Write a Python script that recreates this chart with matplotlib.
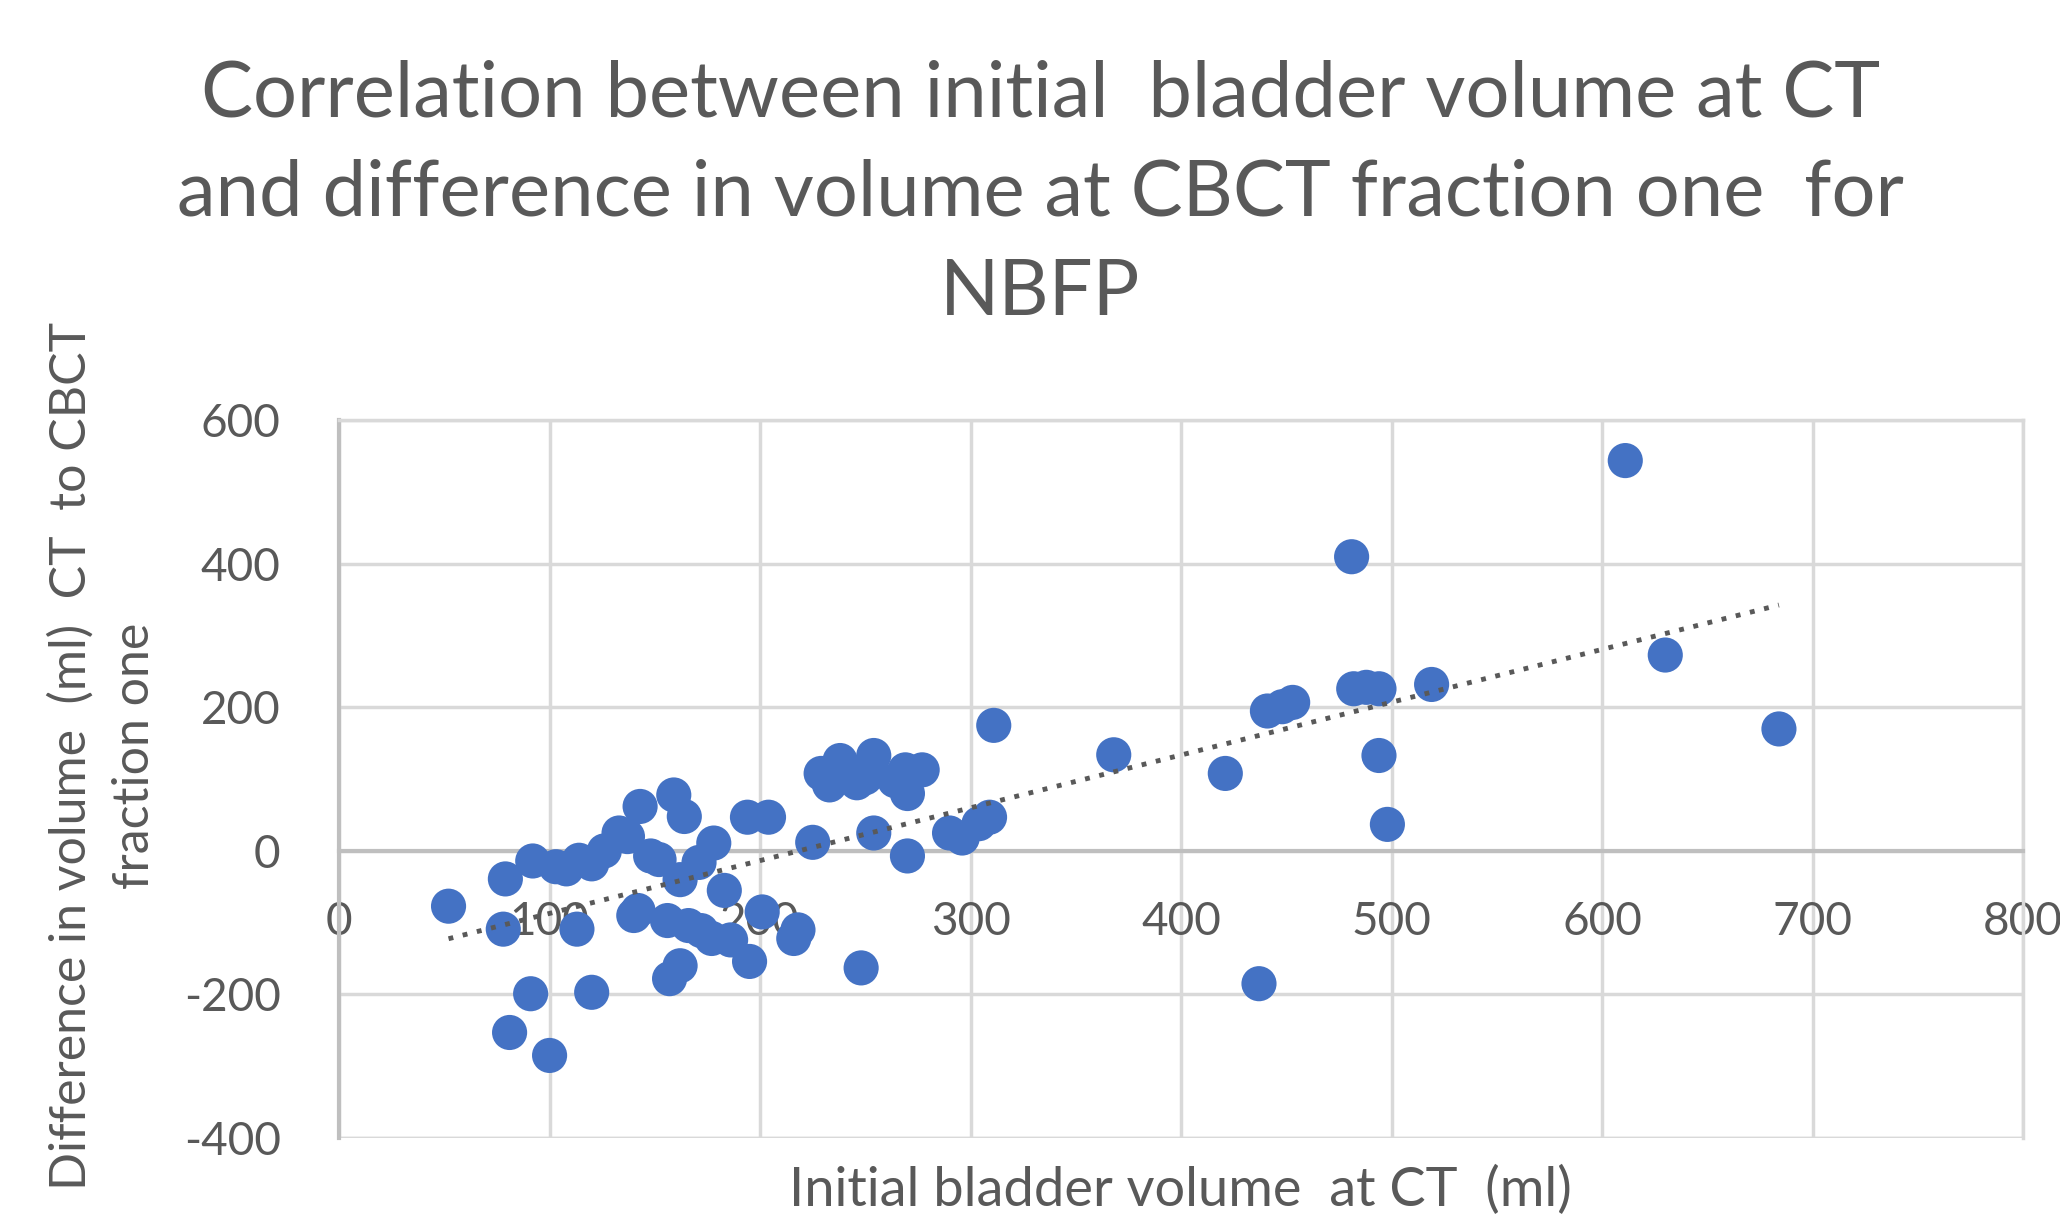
import matplotlib
matplotlib.use('Agg')
import matplotlib.pyplot as plt
import numpy as np

# initial bladder volume at CT (ml) and difference CT -> CBCT fraction one (ml)
ct_volume = [52, 79, 78, 91, 120, 81, 100, 113, 92, 103, 114, 126, 133, 137, 143,
             148, 159, 164, 162, 171, 178, 183, 142, 156, 172, 186, 157, 162, 177,
             194, 204, 195, 201, 216, 218, 225, 229, 233, 238, 246, 254, 248, 254,
             269, 277, 270, 270, 290, 296, 304, 309, 311, 368, 421, 437, 441, 448,
             453, 481, 482, 488, 494, 494, 498, 519, 611, 630, 684,
             108, 120, 152, 242, 250, 264, 166, 140]
vol_diff = [-77, -39, -109, -199, -197, -253, -285, -109, -14, -22, -13, 0, 25, 20, 62,
            -7, 78, 48, -40, -16, 11, -55, -83, -97, -111, -124, -178, -160, -122,
            47, 47, -154, -85, -122, -110, 12, 108, 92, 126, 95, 133, -163, 25,
            113, 113, 80, -7, 25, 18, 38, 47, 175, 134, 108, -185, 195, 201,
            207, 410, 226, 228, 226, 133, 37, 232, 544, 273, 170,
            -25, -18, -12, 112, 102, 98, -104, -90]

x_ticks = [0, 100, 200, 300, 400, 500, 600, 700, 800]
y_ticks = [-400, -200, 0, 200, 400, 600]

title = ('Correlation between initial  bladder volume at CT\n'
         'and difference in volume at CBCT fraction one  for\n'
         'NBFP')
xlabel = 'Initial bladder volume  at CT  (ml)'
ylabel = 'Difference in volume  (ml)  CT  to CBCT\nfraction one'

plt.rcParams['font.family'] = ['Lato', 'DejaVu Sans']
txt = '#595959'
grid = '#d9d9d9'

fig = plt.figure(figsize=(20.6, 12.15), dpi=100)
ax = fig.add_axes([0.1646, 0.0634, 0.8175, 0.5906])

ax.set_xlim(0, 800)
ax.set_ylim(-400, 600)
ax.set_xticks(x_ticks)
ax.set_yticks(y_ticks)
ax.set_xticklabels([str(v) for v in x_ticks])
ax.set_yticklabels([str(v) for v in y_ticks])
ax.grid(True, color=grid, lw=2.5, zorder=0)
ax.set_axisbelow(True)

for s in ['top', 'right']:
    ax.spines[s].set_color(grid)
    ax.spines[s].set_linewidth(2.5)
ax.spines['left'].set_color('#bfbfbf')
ax.spines['left'].set_linewidth(3)
ax.spines['bottom'].set_position(('data', 0))
ax.spines['bottom'].set_color('#bfbfbf')
ax.spines['bottom'].set_linewidth(3)
ax.axhline(-400, color=grid, lw=2.5, zorder=0)

ax.tick_params(axis='x', length=0, pad=36, labelsize=33, labelcolor=txt)
ax.tick_params(axis='y', length=0, pad=42, labelsize=33, labelcolor=txt)

ax.scatter(ct_volume, vol_diff, s=640, color='#4472c4', edgecolors='none', zorder=3)

# linear trendline over the data range
k, b = np.polyfit(ct_volume, vol_diff, 1)
xt = np.array([min(ct_volume), max(ct_volume)])
ax.plot(xt, k * xt + b, color=txt, lw=3.5, ls=(0, (1, 2)), zorder=4)

fig.text(0.505, 0.840, title, ha='center', va='center', fontsize=56,
         color=txt, linespacing=1.5)
fig.text(0.5730, 0.021, xlabel, ha='center', va='center', fontsize=39, color=txt)
fig.text(0.050, 0.378, ylabel, ha='center', va='center', rotation=90,
         fontsize=36, color=txt, linespacing=1.45)

fig.savefig('out.png', dpi=100, facecolor='white')
